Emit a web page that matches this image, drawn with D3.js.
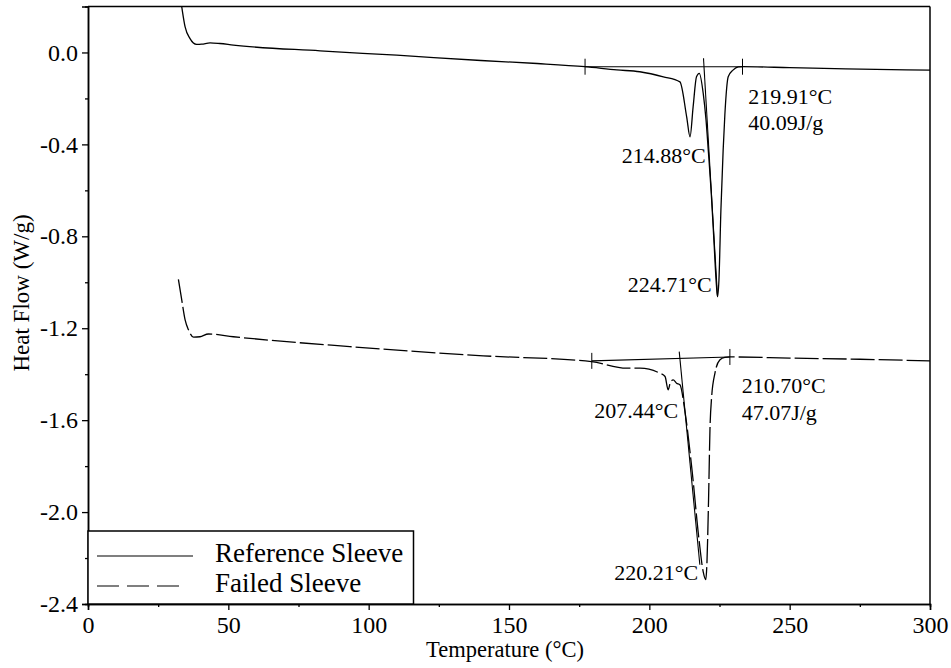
<!DOCTYPE html>
<html>
<head>
<meta charset="utf-8">
<script src="https://cdn.jsdelivr.net/npm/d3@7"></script>
<style>
  body { margin: 0; background: #fff; }
  svg text { font-family: "Liberation Serif", "Times New Roman", serif !important; fill: #000; }
</style>
</head>
<body>
<svg id="chart" width="951" height="668"></svg>
<script>
// DSC traces, temperature (C) vs heat flow (W/g)
var refT  = [33.0, 33.4, 34.6, 36.3, 38.7, 40.5, 43.5, 47.0, 51.8, 82.7, 110, 140, 160, 177.1, 188.4, 196.6, 205.0, 210.9, 213.3, 214.5, 215.6, 216.8, 217.8, 219.2, 220.2, 221.0, 222.0, 223.0, 223.9, 224.3, 224.8, 225.5, 226.3, 226.9, 228.1, 229.8, 231.7, 233.2, 250, 270, 300];
var refHF = [0.23, 0.198, 0.111, 0.061, 0.035, 0.036, 0.042, 0.039, 0.032, 0.007, -0.012, -0.035, -0.048, -0.062, -0.076, -0.084, -0.106, -0.128, -0.28, -0.367, -0.237, -0.106, -0.091, -0.178, -0.294, -0.425, -0.599, -0.816, -1.012, -1.063, -0.99, -0.686, -0.425, -0.273, -0.106, -0.077, -0.063, -0.062, -0.066, -0.071, -0.077];

var failT  = [32.2, 33.4, 34.6, 35.8, 37.6, 39.9, 42.9, 51.8, 93.3, 140.8, 179.4, 191.9, 196.7, 203.8, 205.6, 206.7, 207.6, 208.5, 209.7, 210.9, 212.7, 215.2, 217.7, 219.2, 220.1, 220.5, 221.1, 221.6, 222.2, 223.4, 225.1, 226.9, 228.7, 250, 275, 300];
var failHF = [-0.987, -1.077, -1.164, -1.207, -1.239, -1.237, -1.225, -1.237, -1.28, -1.32, -1.345, -1.374, -1.374, -1.396, -1.41, -1.468, -1.432, -1.425, -1.439, -1.446, -1.563, -1.816, -2.12, -2.26, -2.294, -2.229, -1.947, -1.642, -1.499, -1.394, -1.338, -1.327, -1.325, -1.33, -1.335, -1.342];

// integration baselines and onset tangents
var refBaseT  = [177.1, 233.2];
var refBaseHF = [-0.062, -0.062];
var refTanT   = [219.3, 224.3];
var refTanHF  = [-0.025, -1.063];
var failBaseT  = [179.5, 228.7];
var failBaseHF = [-1.342, -1.325];
var failTanT   = [210.65, 218.0];
var failTanHF  = [-1.302, -2.229];

var xTicks = [0, 50, 100, 150, 200, 250, 300];
var xMinor = [25, 75, 125, 175, 225, 275];
var yTicks = [-2.4, -2.0, -1.6, -1.2, -0.8, -0.4, 0.0];
var yMinor = [-2.2, -1.8, -1.4, -1.0, -0.6, -0.2];

var labels = [
  {t: "219.91°C", x: 235.2, y: -0.224, a: "start"},
  {t: "40.09J/g", x: 235.2, y: -0.337, a: "start"},
  {t: "214.88°C", x: 220.1, y: -0.482, a: "end"},
  {t: "224.71°C", x: 222.2, y: -1.041, a: "end"},
  {t: "210.70°C", x: 232.9, y: -1.483, a: "start"},
  {t: "47.07J/g", x: 232.9, y: -1.599, a: "start"},
  {t: "207.44°C", x: 210.3, y: -1.592, a: "end"},
  {t: "220.21°C", x: 217.4, y: -2.295, a: "end"}
];

var svg = d3.select("#chart");
var L = 88, R = 930, T = 6.5, B = 604;
var serif = '"Liberation Serif", "Times New Roman", serif';

var x = d3.scaleLinear().domain([0, 300]).range([L, R]);
var y = d3.scaleLinear().domain([-2.4, 0.2]).range([B, T]);

svg.append("clipPath").attr("id", "plotclip")
  .append("rect").attr("x", L).attr("y", T).attr("width", R - L).attr("height", B - T);

// axes
svg.append("g").attr("transform", "translate(0," + B + ")")
  .call(d3.axisBottom(x).tickValues(xTicks).tickSize(6).tickPadding(6).tickFormat(function(d){ return d; }));
svg.append("g").attr("transform", "translate(0," + B + ")")
  .call(d3.axisBottom(x).tickValues(xMinor).tickSize(3).tickFormat(""));
svg.append("g").attr("transform", "translate(" + L + ",0)")
  .call(d3.axisLeft(y).tickValues(yTicks).tickSize(6).tickPadding(4).tickFormat(function(d){ return d.toFixed(1); }));
svg.append("g").attr("transform", "translate(" + L + ",0)")
  .call(d3.axisLeft(y).tickValues(yMinor).tickSize(3).tickFormat(""));

svg.selectAll("g").attr("font-family", serif);
svg.selectAll(".domain").attr("stroke", "#000").attr("stroke-width", 1.5);
svg.selectAll(".tick line").attr("stroke", "#000").attr("stroke-width", 1.3);
svg.selectAll(".tick text").style("font-size", "24px").style("font-family", serif).attr("fill", "#000");

// top and right frame
svg.append("line").attr("x1", L).attr("x2", R).attr("y1", T).attr("y2", T)
  .attr("stroke", "#000").attr("stroke-width", 1.5);
svg.append("line").attr("x1", R).attr("x2", R).attr("y1", T).attr("y2", B)
  .attr("stroke", "#000").attr("stroke-width", 1.5);

// axis titles
svg.append("text").attr("x", 505).attr("y", 657).attr("text-anchor", "middle")
  .style("font-size", "22.5px").text("Temperature (°C)");
svg.append("text").attr("transform", "translate(29,293) rotate(-90)").attr("text-anchor", "middle")
  .style("font-size", "23px").text("Heat Flow (W/g)");

var line = d3.line().x(function(d){ return x(d[0]); }).y(function(d){ return y(d[1]); });
var smooth = d3.line().x(function(d){ return x(d[0]); }).y(function(d){ return y(d[1]); }).curve(d3.curveMonotoneX);

var plot = svg.append("g").attr("clip-path", "url(#plotclip)");

// baselines + tangents (solid, thin)
[[refBaseT, refBaseHF], [refTanT, refTanHF], [failBaseT, failBaseHF], [failTanT, failTanHF]].forEach(function(p){
  plot.append("path").datum(d3.zip(p[0], p[1])).attr("d", line)
    .attr("fill", "none").attr("stroke", "#000").attr("stroke-width", 1.1);
});

// small cross marks at the ends of the baselines
var crosses = [[refBaseT[0], refBaseHF[0]], [refBaseT[1], refBaseHF[1]], [failBaseT[0], failBaseHF[0]], [failBaseT[1], failBaseHF[1]]];
crosses.forEach(function(c){
  plot.append("line").attr("x1", x(c[0])).attr("x2", x(c[0]))
    .attr("y1", y(c[1]) - 8).attr("y2", y(c[1]) + 8)
    .attr("stroke", "#000").attr("stroke-width", 1);
});

plot.append("path").datum(d3.zip(refT, refHF)).attr("d", smooth)
  .attr("fill", "none").attr("stroke", "#000").attr("stroke-width", 1.3);
plot.append("path").datum(d3.zip(failT, failHF)).attr("d", smooth)
  .attr("fill", "none").attr("stroke", "#000").attr("stroke-width", 1.3)
  .attr("stroke-dasharray", "24,4");

// annotations
svg.selectAll(".ann").data(labels).enter().append("text")
  .attr("class", "ann")
  .attr("x", function(d){ return x(d.x); })
  .attr("y", function(d){ return y(d.y); })
  .attr("text-anchor", function(d){ return d.a; })
  .style("font-size", "22px")
  .text(function(d){ return d.t; });

// legend
var lg = svg.append("g");
lg.append("rect").attr("x", L).attr("y", 531).attr("width", 413.5 - L).attr("height", B - 531)
  .attr("fill", "#fff").attr("stroke", "#000").attr("stroke-width", 1.5);
lg.append("line").attr("x1", 97).attr("x2", 193).attr("y1", 556).attr("y2", 556)
  .attr("stroke", "#000").attr("stroke-width", 1.2);
lg.append("line").attr("x1", 97).attr("x2", 180).attr("y1", 586).attr("y2", 586)
  .attr("stroke", "#000").attr("stroke-width", 1.2).attr("stroke-dasharray", "22,8");
lg.append("text").attr("x", 215).attr("y", 562).style("font-size", "27px").text("Reference Sleeve");
lg.append("text").attr("x", 215).attr("y", 592).style("font-size", "27px").text("Failed Sleeve");
</script>
</body>
</html>
